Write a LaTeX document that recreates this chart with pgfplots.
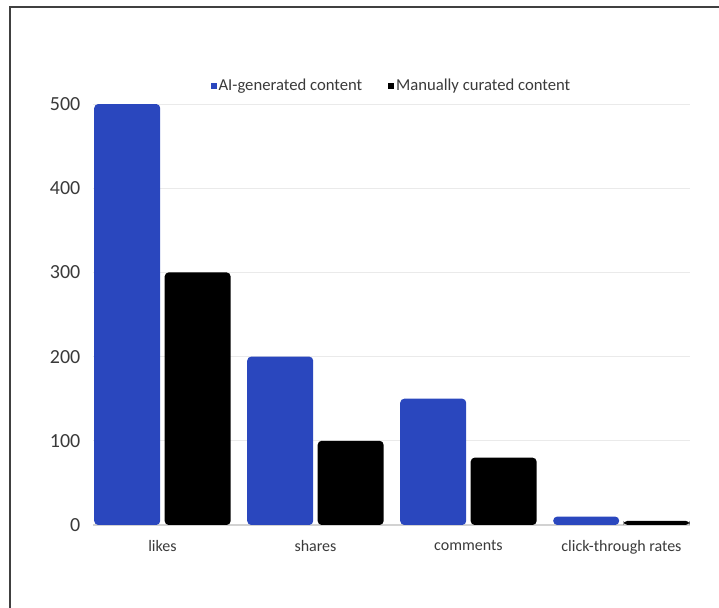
\documentclass[border=0pt]{standalone}
\usepackage{fontspec}
\setmainfont{Carlito}
\usepackage{pgfplots}
\pgfplotsset{compat=1.18}
\definecolor{aiblue}{RGB}{42,71,190}
\definecolor{gridgray}{RGB}{234,234,234}
\definecolor{txt}{RGB}{58,58,58}
\pgfplotsset{
  sqlegend/.style={legend image code/.code={\fill[##1, rounded corners=0pt] (0pt,-2.2pt) rectangle (4.4pt,2.2pt);}}
}

\begin{document}
\begin{tikzpicture}
\path[use as bounding box] (0pt,0pt) rectangle (539.25pt,456pt);
\draw[line width=1.1pt, black!75] (7.5pt,0pt) -- (7.5pt,450.75pt) -- (539.25pt,450.75pt);
\begin{axis}[
    at={(69.75pt,62.25pt)}, anchor=south west,
    scale only axis, width=447.75pt, height=315.75pt,
    ymin=0, ymax=500, xmin=-0.454, xmax=3.448,
    ybar, bar width=0.431,
    axis x line*=bottom, axis y line*=left,
    y axis line style={draw=none},
    x axis line style={draw=gray!35, line width=0.8pt},
    tick style={draw=none},
    xtick={0,1,2,3},
    xticklabels={likes,shares,comments,click-through rates},
    ytick={0,100,200,300,400,500},
    /pgf/number format/assume math mode=true,
    xticklabel style={font=\fontsize{12}{14}\selectfont, text=txt, yshift=-4pt},
    yticklabel style={font=\fontsize{15}{17}\selectfont, text=txt, xshift=-6pt},
    ymajorgrids, grid style={gridgray, line width=0.6pt},
    legend columns=2,
    legend style={at={(0.5,1)}, anchor=center, yshift=13.5pt, draw=none,
      font=\fontsize{12.5}{14}\selectfont, text=txt,
      nodes={inner sep=1.5pt},
      /tikz/every even column/.append style={column sep=18pt}},
]
\addplot[fill=aiblue, draw=none, bar shift=-0.2304, rounded corners=3pt, sqlegend]
  coordinates {(0,500) (1,200) (2,150) (3,10)};
\addplot[fill=black, draw=none, bar shift=0.23, rounded corners=3pt, sqlegend]
  coordinates {(0,300) (1,100) (2,80) (3,5)};
\legend{AI-generated content, Manually curated content}
\end{axis}
\end{tikzpicture}
\end{document}
